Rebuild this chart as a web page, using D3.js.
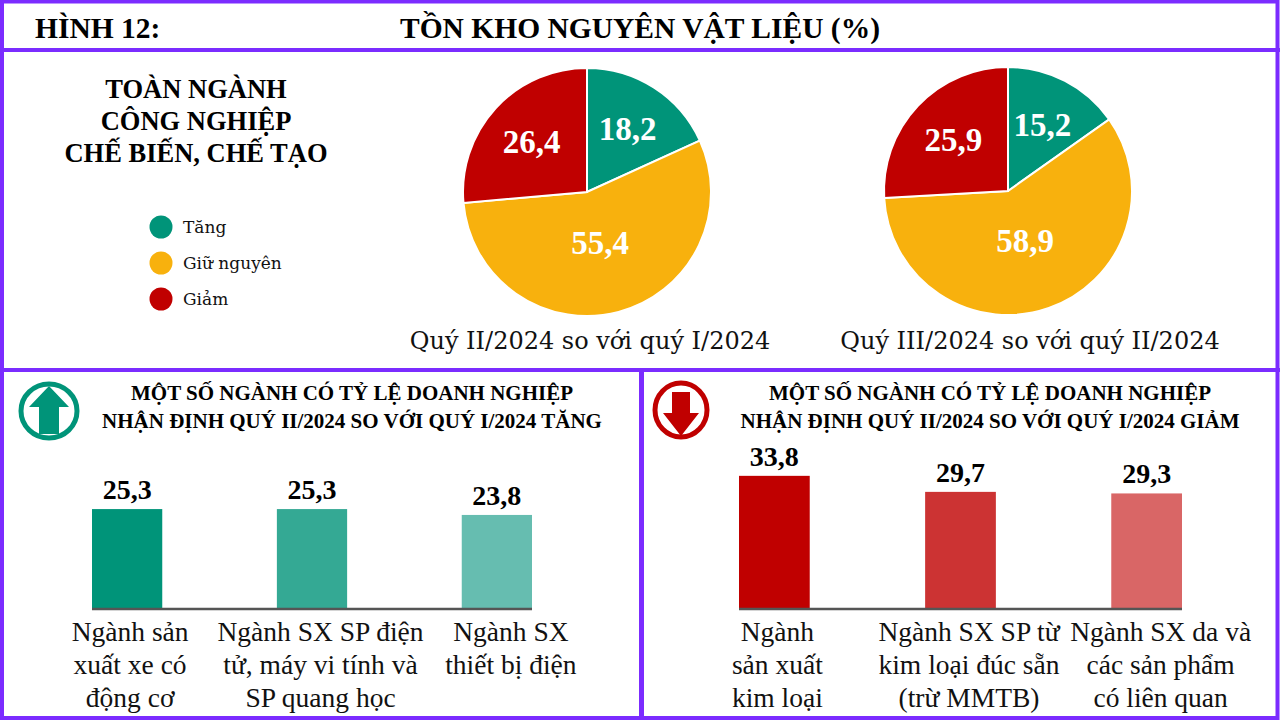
<!DOCTYPE html>
<html>
<head>
<meta charset="utf-8">
<script src="https://cdn.jsdelivr.net/npm/d3@7"></script>
<style>
  html, body { margin: 0; padding: 0; background: #fff; }
  svg { display: block; }
  .serif { font-family: "Liberation Serif", "Times New Roman", serif; }
  .soft { font-family: "DejaVu Serif", serif; }
</style>
</head>
<body>
<script>
// ---- data ----
var pieSeries = ["Tăng", "Giữ nguyên", "Giảm"];
var pieColors = ["#009479", "#F8B10D", "#C00000"];
var pieQ2 = [18.2, 55.4, 26.4];
var pieQ3 = [15.2, 58.9, 25.9];
var pieCaptions = ["Quý II/2024 so với quý I/2024", "Quý III/2024 so với quý II/2024"];

var upCats = [["Ngành sản", "xuất xe có", "động cơ"],
              ["Ngành SX SP điện", "tử, máy vi tính và", "SP quang học"],
              ["Ngành SX", "thiết bị điện"]];
var upValues = [25.3, 25.3, 23.8];
var upColors = ["#009479", "#34A994", "#66BDB0"];

var downCats = [["Ngành", "sản xuất", "kim loại"],
                ["Ngành SX SP từ", "kim loại đúc sẵn", "(trừ MMTB)"],
                ["Ngành SX da và", "các sản phẩm", "có liên quan"]];
var downValues = [33.8, 29.7, 29.3];
var downColors = ["#C00000", "#CC3333", "#D96666"];

var headTitle = "HÌNH 12:";
var mainTitle = "TỒN KHO NGUYÊN VẬT LIỆU (%)";
var leftTitle = ["TOÀN NGÀNH", "CÔNG NGHIỆP", "CHẾ BIẾN, CHẾ TẠO"];
var upHeading = ["MỘT SỐ NGÀNH CÓ TỶ LỆ DOANH NGHIỆP", "NHẬN ĐỊNH QUÝ II/2024 SO VỚI QUÝ I/2024 TĂNG"];
var downHeading = ["MỘT SỐ NGÀNH CÓ TỶ LỆ DOANH NGHIỆP", "NHẬN ĐỊNH QUÝ II/2024 SO VỚI QUÝ I/2024 GIẢM"];

var W = 1280, H = 720;
var purple = "#7B2CFF";
var fmt = function(v) { return d3.format(".1f")(v).replace(".", ","); };

var svg = d3.select("body").append("svg")
  .attr("width", W).attr("height", H);

// ---- frame ----
svg.append("rect").attr("x", 2).attr("y", 1.5).attr("width", W - 4.5).attr("height", H - 3.5)
   .attr("fill", "none").attr("stroke", purple).attr("stroke-width", 4);
svg.append("line").attr("x1", 0).attr("x2", W).attr("y1", 50).attr("y2", 50)
   .attr("stroke", purple).attr("stroke-width", 4);
svg.append("line").attr("x1", 0).attr("x2", W).attr("y1", 370).attr("y2", 370)
   .attr("stroke", purple).attr("stroke-width", 4);
svg.append("line").attr("x1", 641.5).attr("x2", 641.5).attr("y1", 370).attr("y2", H)
   .attr("stroke", purple).attr("stroke-width", 5);

// ---- header ----
svg.append("text").attr("class", "serif").attr("x", 35).attr("y", 38)
   .attr("font-size", 29.5).attr("font-weight", "bold").text(headTitle);
svg.append("text").attr("class", "serif").attr("x", 640).attr("y", 38)
   .attr("text-anchor", "middle").attr("font-size", 29.5).attr("font-weight", "bold").text(mainTitle);

// ---- top-left title + legend ----
svg.append("g").selectAll("text").data(leftTitle).join("text")
   .attr("class", "serif").attr("x", 196).attr("y", function(d, i) { return 98 + i * 32; })
   .attr("text-anchor", "middle").attr("font-size", 26.5).attr("font-weight", "bold")
   .text(function(d) { return d; });

var legend = svg.append("g").selectAll("g").data(pieSeries).join("g")
   .attr("transform", function(d, i) { return "translate(161," + (227 + i * 36) + ")"; });
legend.append("circle").attr("r", 11.5).attr("fill", function(d, i) { return pieColors[i]; });
legend.append("text").attr("class", "soft").attr("x", 22).attr("dy", "0.33em")
   .attr("font-size", 17).attr("fill", "#111").text(function(d) { return d; });

// ---- pies ----
var pie = d3.pie().sort(null).value(function(d) { return d; });
var r = 124;
var arc = d3.arc().innerRadius(0).outerRadius(r);

function drawPie(values, cx, cy, caption, capX) {
  var g = svg.append("g").attr("transform", "translate(" + cx + "," + cy + ")");
  var arcs = pie(values);
  g.selectAll("path").data(arcs).join("path")
   .attr("d", arc)
   .attr("fill", function(d, i) { return pieColors[i]; })
   .attr("stroke", "#fff").attr("stroke-width", 2);
  g.selectAll("text").data(arcs).join("text")
   .attr("class", "serif")
   .attr("transform", function(d) {
     var rl = (d.endAngle - d.startAngle) > Math.PI ? 52 : 75;
     var c = d3.arc().innerRadius(rl).outerRadius(rl).centroid(d);
     return "translate(" + c[0] + "," + c[1] + ")";
   })
   .attr("text-anchor", "middle").attr("dy", "0.35em")
   .attr("font-size", 33).attr("font-weight", "bold").attr("fill", "#fff")
   .text(function(d) { return fmt(d.data); });
  svg.append("text").attr("class", "soft").attr("x", capX).attr("y", 349)
   .attr("text-anchor", "middle").attr("font-size", 24).attr("fill", "#111").text(caption);
}
drawPie(pieQ2, 587, 192, pieCaptions[0], 590);
drawPie(pieQ3, 1008, 191, pieCaptions[1], 1030);

// ---- bottom panels ----
var y = d3.scaleLinear().domain([0, 35]).range([608, 608 - 35 * 3.91]);

function drawBars(cats, values, colors, x0, x1) {
  var x = d3.scaleBand().domain(d3.range(values.length)).range([x0, x1])
            .paddingInner(0.62).paddingOuter(0);
  // text boxes under the bars drift right a little, as in the original
  var xl = d3.scalePoint().domain(d3.range(values.length))
             .range([x0 + x.bandwidth() / 2 + 3, x1 - x.bandwidth() / 2 + 14]);
  var g = svg.append("g");
  g.selectAll("rect").data(values).join("rect")
   .attr("x", function(d, i) { return x(i); })
   .attr("y", function(d) { return y(d); })
   .attr("width", x.bandwidth())
   .attr("height", function(d) { return y(0) - y(d); })
   .attr("fill", function(d, i) { return colors[i]; });
  g.append("line").attr("x1", x0).attr("x2", x1).attr("y1", y(0) + 1).attr("y2", y(0) + 1)
   .attr("stroke", "#555").attr("stroke-width", 2.5);
  g.selectAll("text.val").data(values).join("text")
   .attr("class", "serif val")
   .attr("x", function(d, i) { return x(i) + x.bandwidth() / 2; })
   .attr("y", function(d) { return y(d) - 10; })
   .attr("text-anchor", "middle").attr("font-size", 28).attr("font-weight", "bold")
   .text(function(d) { return fmt(d); });
  cats.forEach(function(lines, i) {
    g.append("text").attr("class", "serif")
     .attr("x", xl(i)).attr("y", 641)
     .attr("text-anchor", "middle").attr("font-size", 27.5).attr("fill", "#111")
     .selectAll("tspan").data(lines).join("tspan")
     .attr("x", xl(i))
     .attr("dy", function(d, j) { return j === 0 ? 0 : 33; })
     .text(function(d) { return d; });
  });
}
drawBars(upCats, upValues, upColors, 92, 532);
drawBars(downCats, downValues, downColors, 739, 1182);

function drawHeading(lines, cx) {
  svg.append("g").selectAll("text").data(lines).join("text")
   .attr("class", "serif").attr("x", cx).attr("y", function(d, i) { return 400 + i * 28; })
   .attr("text-anchor", "middle").attr("font-size", 21).attr("font-weight", "bold")
   .text(function(d) { return d; });
}
drawHeading(upHeading, 352);
drawHeading(downHeading, 990);

// icons
var up = svg.append("g").attr("transform", "translate(49,411)");
up.append("ellipse").attr("rx", 28).attr("ry", 27).attr("fill", "#fff")
  .attr("stroke", "#009479").attr("stroke-width", 5);
up.append("path").attr("fill", "#009479")
  .attr("d", "M0,-25 L20,-4 L10,-4 L10,23 L-10,23 L-10,-4 L-20,-4 Z");

var down = svg.append("g").attr("transform", "translate(681,410)");
down.append("ellipse").attr("rx", 26).attr("ry", 27).attr("fill", "#fff")
  .attr("stroke", "#C00000").attr("stroke-width", 5);
down.append("path").attr("fill", "#C00000")
  .attr("d", "M-9,-18 L9,-18 L9,3 L18,3 L0,26 L-18,3 L-9,3 Z");
</script>
</body>
</html>
